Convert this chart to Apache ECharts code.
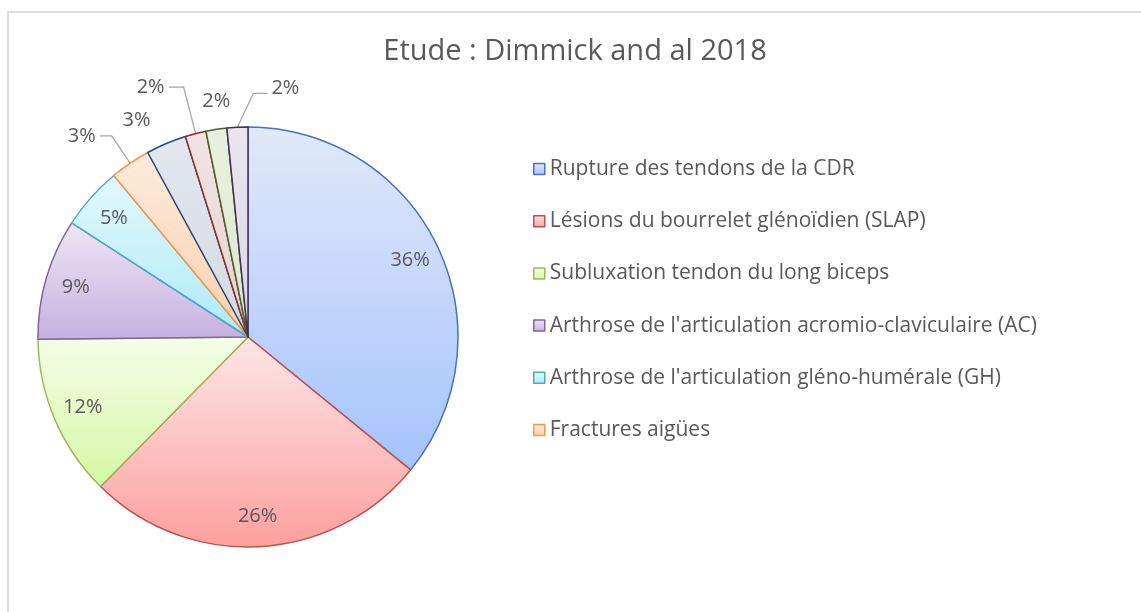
<!DOCTYPE html>
<html>
<head>
<meta charset="utf-8">
<script src="https://cdn.jsdelivr.net/npm/echarts@6/dist/echarts.min.js"></script>
<style>
  html, body { margin: 0; padding: 0; background: #fff; overflow: hidden; }
  #frame { position: absolute; left: 7px; top: 11px; width: 1200px; height: 700px; border: 2px solid #dcdcdc; }
  #main { position: absolute; left: 0; top: 0; width: 1141px; height: 612px; }
</style>
</head>
<body>
<div id="frame"></div>
<div id="main"></div>
<script>
// share of each lesion type (%)
const categories = [
  'Rupture des tendons de la CDR',
  'Lésions du bourrelet glénoïdien (SLAP)',
  'Subluxation tendon du long biceps',
  "Arthrose de l'articulation acromio-claviculaire (AC)",
  "Arthrose de l'articulation gléno-humérale (GH)",
  'Fractures aigües',
  'Autre 1',
  'Autre 2',
  'Autre 3',
  'Autre 4'
];
const values = [35.8, 26.4, 12.4, 9.3, 4.8, 3.1, 3.1, 1.6, 1.6, 1.6];
const legendNames = categories.slice(0, 6);

// [border, gradient top, gradient bottom]
const palette = [
  ['#4472c4', '#e1e9f9', '#a5c3fc'],
  ['#c0504d', '#fde6e6', '#fca09e'],
  ['#9bbb59', '#f5fde8', '#d6f7a6'],
  ['#8064a2', '#ede6f6', '#c6b1e0'],
  ['#4bacc6', '#e3f9fd', '#aee9f8'],
  ['#f79646', '#fdebdc', '#fcd0ae'],
  ['#1f497d', '#e3e7ee', '#d3d9e4'],
  ['#8b2f2d', '#f1e4e4', '#e5d3d3'],
  ['#4f6228', '#eaf0e1', '#dde6cf'],
  ['#3f3151', '#e9e6ee', '#dcd7e3']
];
const outside = [false, false, false, false, false, true, true, true, true, true];
const lineLen = [0, 0, 0, 0, 0, 33, 25, 48, 28, 34];
const lineLen2 = [0, 0, 0, 0, 0, 12, 2, 15, 0, 14];
const lineShow = [false, false, false, false, false, true, false, true, false, true];

const textColor = '#595959';
const font = 'Open Sans';
const cx = 248, cy = 337, R = 210;

const chart = echarts.init(document.getElementById('main'));

const mainData = categories.map((name, i) => ({
  name: name,
  value: values[i],
  itemStyle: {
    color: new echarts.graphic.LinearGradient(0, 0, 0, 1, [
      { offset: 0, color: palette[i][1] },
      { offset: 1, color: palette[i][2] }
    ]),
    borderColor: palette[i][0]
  },
  label: { show: outside[i] },
  labelLine: { show: lineShow[i], length: lineLen[i], length2: lineLen2[i] }
}));

const labelData = categories.map((name, i) => ({
  name: name,
  value: values[i],
  label: { show: !outside[i] }
}));

const pctFmt = p => Math.round(p.percent) + '%';

const option = {
  animation: false,
  title: {
    text: 'Etude : Dimmick and al 2018',
    left: 570,
    top: 32,
    textAlign: 'center',
    textStyle: { fontFamily: font, fontSize: 29, fontWeight: 'normal', color: textColor }
  },
  legend: {
    data: legendNames,
    orient: 'vertical',
    left: 528,
    top: 152,
    itemWidth: 11,
    itemHeight: 11,
    itemGap: 28.2,
    icon: 'rect',
    selectedMode: false,
    itemStyle: { borderWidth: 1.5 },
    textStyle: { fontFamily: font, fontSize: 21, color: textColor, lineHeight: 24, padding: [0, 0, 0, 0] }
  },
  series: [
    {
      type: 'pie',
      center: [cx, cy],
      radius: R,
      startAngle: 90,
      clockwise: true,
      avoidLabelOverlap: false,
      silent: true,
      itemStyle: { borderWidth: 1.5 },
      label: {
        position: 'outside',
        formatter: pctFmt,
        fontFamily: font,
        fontSize: 20,
        color: textColor,
        distanceToLabelLine: 4
      },
      labelLine: {
        lineStyle: { color: '#a6a6a6', width: 1.3 },
        smooth: false
      },
      labelLayout: function (p) {
        if (!p.labelLinePoints) return;
        const e = p.labelLinePoints[0];
        const b = p.labelLinePoints[1];
        if (p.dataIndex === 8) {
          // no leader line: label sits straight above the thin slice
          return { x: e[0], y: b[1], align: 'center' };
        }
        if (p.dataIndex === 9) {
          // last slice: label goes to the right like the source chart
          const bend = [e[0] + 16, b[1]];
          const end = [bend[0] + 14, b[1]];
          return {
            x: end[0] + 4,
            y: b[1] - 5,
            align: 'left',
            labelLinePoints: [e, bend, end]
          };
        }
      },
      data: mainData
    },
    {
      // transparent ring carrying the inside labels at ~0.84 R
      type: 'pie',
      center: [cx, cy],
      radius: [R * 0.68, R],
      startAngle: 90,
      clockwise: true,
      silent: true,
      itemStyle: { color: 'rgba(0,0,0,0)', borderWidth: 0 },
      label: {
        position: 'inside',
        formatter: pctFmt,
        fontFamily: font,
        fontSize: 20,
        color: textColor
      },
      labelLine: { show: false },
      data: labelData
    }
  ]
};

chart.setOption(option);
</script>
</body>
</html>
